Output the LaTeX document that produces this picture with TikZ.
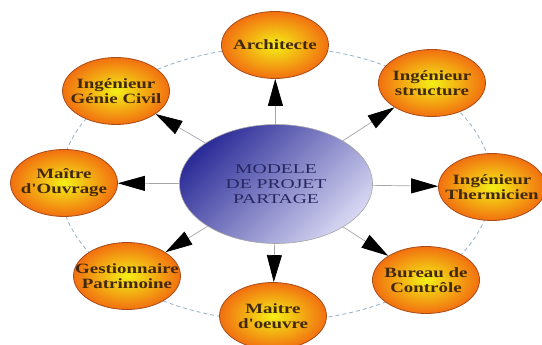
\documentclass[tikz,border=0pt]{standalone}
\usepackage{fontspec}
\setmainfont{Liberation Serif}
\newfontfamily\satfont[FakeStretch=1.33]{Liberation Serif}
\newfontfamily\midfont[FakeStretch=1.45]{Liberation Serif}
\usetikzlibrary{arrows.meta,shapes.geometric}
\definecolor{satin}{HTML}{F4F016}
\definecolor{satout}{HTML}{F27010}
\definecolor{satline}{HTML}{A84C18}
\definecolor{sattext}{HTML}{42280A}
\definecolor{middark}{HTML}{2C2C98}
\definecolor{midlight}{HTML}{D6D6F2}
\definecolor{midtext}{HTML}{262660}
\definecolor{ringcol}{HTML}{9CB8CC}

\begin{document}
\begin{tikzpicture}[x=1pt,y=-1pt,
    sat/.style={ellipse,draw=satline,line width=.8pt,inner color=satin,outer color=satout,minimum width=107pt,minimum height=67pt,inner sep=-20pt,align=center,text=sattext,font=\satfont\bfseries\fontsize{14.2}{15}\selectfont},
    mid/.style={ellipse,draw=gray!70,line width=.6pt,shading=axis,top color=middark,bottom color=midlight,shading angle=45,minimum width=193pt,minimum height=119pt,inner sep=0pt,align=center,text=midtext,font=\midfont\fontsize{13.5}{15}\selectfont},
    lien/.style={draw=gray!70,line width=.7pt,-{Triangle[length=27pt,width=15pt,color=black]}}]
    \useasboundingbox (0,0) rectangle (542,345);
    \draw[ringcol,dash pattern=on 4pt off 3pt,line width=.9pt] (276,184) ellipse [x radius=216,y radius=137];

    \node[mid] (projet) at (276,184) {MODELE\\DE PROJET\\PARTAGE};

    \node[sat] (arch) at (275,45) {Architecte};
    \node[sat] (civil) at (116,91) {Ingénieur\\Génie Civil};
    \node[sat] (struct) at (432,83) {Ingénieur\\structure};
    \node[sat] (ouvrage) at (64,183) {Maître\\d'Ouvrage};
    \node[sat] (therm) at (492,187) {Ingénieur\\Thermicien};
    \node[sat] (gest) at (127,276) {Gestionnaire\\Patrimoine};
    \node[sat] (bureau) at (426,280) {Bureau de\\Contrôle};
    \node[sat] (oeuvre) at (273,316) {Maitre\\d'oeuvre};

    \draw[lien] (projet) -- (arch);
    \draw[lien] (projet) -- (civil);
    \draw[lien] (projet) -- (struct);
    \draw[lien] (projet) -- (ouvrage);
    \draw[lien] (projet) -- (therm);
    \draw[lien] (projet) -- (gest);
    \draw[lien] (projet) -- (bureau);
    \draw[lien] (projet) -- (oeuvre);
\end{tikzpicture}
\end{document}
